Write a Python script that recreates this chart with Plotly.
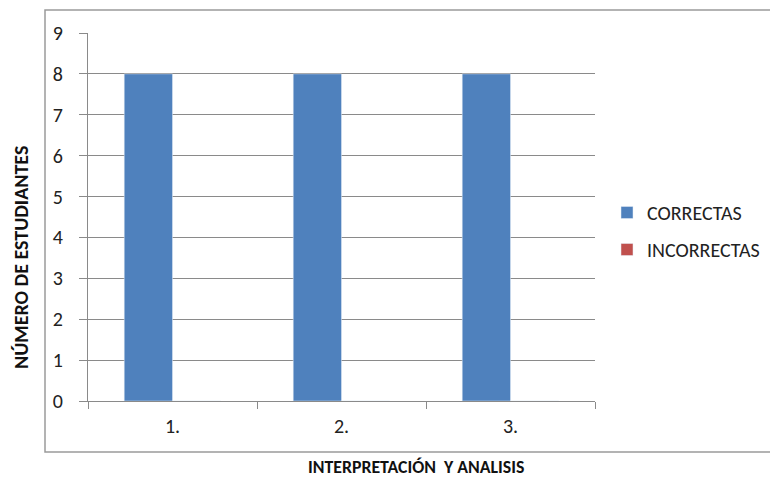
import plotly.graph_objects as go

categories = ["1.", "2.", "3."]
correctas = [8, 8, 8]
incorrectas = [0, 0, 0]
y_ticks = [0, 1, 2, 3, 4, 5, 6, 7, 8, 9]

W, H = 770, 479
L, R, T, B = 88, 175, 33, 78
pw, ph = W - L - R, H - T - B

def px(x):
    return (x - L) / pw

def py(y):
    return (H - B - y) / ph

font_main = "Carlito, Calibri, 'Liberation Sans Narrow', 'Liberation Sans', Arial, sans-serif"

fig = go.Figure()
fig.add_trace(go.Bar(x=categories, y=correctas, name="CORRECTAS", marker_color="#4F81BD",
                     legendgroup="a"))
fig.add_trace(go.Bar(x=categories, y=incorrectas, name="INCORRECTAS", marker_color="#C0504D",
                     legendgroup="b"))

fig.update_layout(
    width=W, height=H,
    margin=dict(l=L, r=R, t=T, b=B, pad=0, autoexpand=False),
    paper_bgcolor="white", plot_bgcolor="white",
    barmode="group", bargap=0.4286, bargroupgap=0,
    font=dict(family=font_main, size=20, color="#222"),
    showlegend=True,
    legend=dict(x=px(607), y=py(231), xanchor="left", yanchor="middle",
                font=dict(size=20, color="#222"), tracegroupgap=8, traceorder="grouped",
                itemwidth=30, bgcolor="rgba(0,0,0,0)"),
    xaxis=dict(type="category", showgrid=False, showline=True, linecolor="#8a8a8a", linewidth=1,
               ticks="outside", ticklen=7, tickcolor="#8a8a8a", tickson="boundaries",
               tickfont=dict(size=20), ticklabelstandoff=7, fixedrange=True, automargin=False),
    yaxis=dict(range=[0, 9], tickvals=y_ticks, showgrid=True, gridcolor="#8a8a8a", gridwidth=1,
               showline=True, linecolor="#8a8a8a", linewidth=1, ticks="outside", ticklen=8,
               tickcolor="#8a8a8a", tickfont=dict(size=20), zeroline=False, ticklabelstandoff=12,
               automargin=False),
    shapes=[dict(type="rect", xref="paper", yref="paper",
                 x0=px(45), x1=px(790), y0=py(452), y1=py(10),
                 line=dict(color="#9a9a9a", width=1.5), layer="below")],
    annotations=[
        dict(text="<b>INTERPRETACIÓN\u00a0\u00a0Y ANALISIS</b>", xref="paper", yref="paper",
             x=px(416), y=py(467), showarrow=False, font=dict(size=17.8, color="#111"),
             xanchor="center", yanchor="middle"),
        dict(text="<b>NÚMERO DE ESTUDIANTES</b>", xref="paper", yref="paper",
             x=px(21), y=py(258), showarrow=False, textangle=-90,
             font=dict(size=20, color="#111"), xanchor="center", yanchor="middle"),
    ],
)

fig.write_html("out.html")
